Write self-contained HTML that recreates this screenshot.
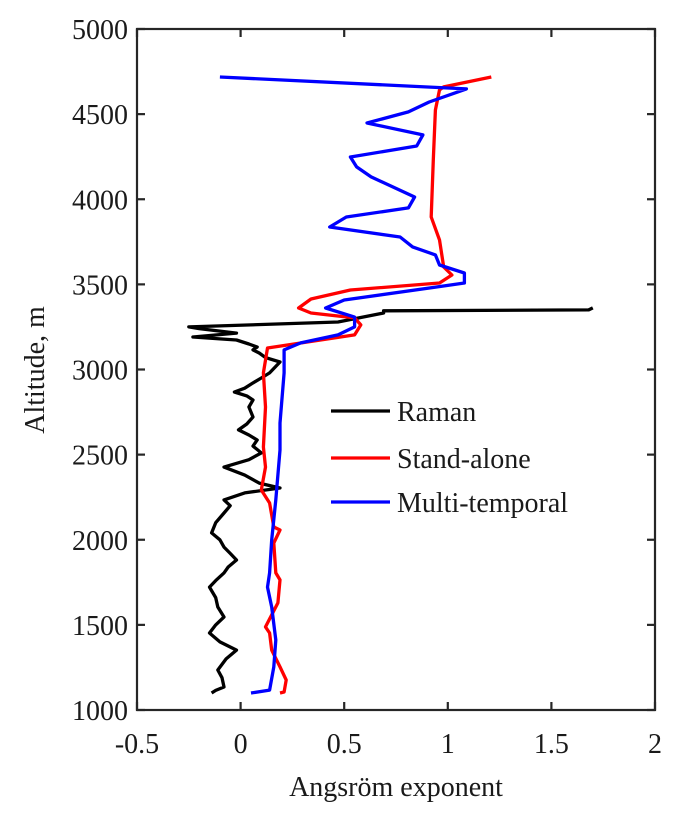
<!DOCTYPE html>
<html><head><meta charset="utf-8"><style>
body{margin:0;background:#fff;}
svg text{font-family:"Liberation Serif",serif;fill:#1a1a1a;}
</style></head><body>
<svg id="chart" width="678" height="824" xmlns="http://www.w3.org/2000/svg">
<g id="marks"></g>
<g id="axes"></g>
</svg>
<script>
const xTicks=[-0.5,0,0.5,1,1.5,2];
const xTickLabels=["-0.5","0","0.5","1","1.5","2"];
const yTicks=[1000,1500,2000,2500,3000,3500,4000,4500,5000];
const yTickLabels=["1000","1500","2000","2500","3000","3500","4000","4500","5000"];
const seriesNames=["Raman","Stand-alone","Multi-temporal"];
const ramanX=[1.70,1.68,0.69,0.69,0.47,-0.25,-0.20,-0.02,-0.23,-0.10,-0.02,0.04,0.08,0.06,0.09,0.12,0.19,0.14,0.10,0.06,0.02,-0.03,0.03,0.06,0.04,0.06,0.03,-0.01,0.04,0.08,0.06,0.10,0.04,-0.08,0.02,0.09,0.19,0.02,-0.08,-0.05,-0.08,-0.12,-0.14,-0.10,-0.08,-0.05,-0.02,-0.06,-0.08,-0.12,-0.15,-0.12,-0.11,-0.08,-0.12,-0.15,-0.10,-0.02,-0.07,-0.11,-0.09,-0.08,-0.12,-0.14];
const ramanY=[3362,3350,3345,3332,3279,3250,3240,3214,3191,3180,3173,3150,3132,3115,3097,3070,3044,2980,2950,2921,2890,2868,2845,2821,2780,2721,2680,2645,2615,2586,2550,2510,2470,2427,2380,2333,2304,2275,2234,2200,2157,2100,2040,2000,1957,1920,1881,1840,1805,1760,1722,1660,1605,1546,1500,1452,1400,1352,1300,1235,1190,1135,1115,1100];
const standX=[1.21,0.98,0.96,0.94,0.93,0.92,0.96,0.98,1.02,0.96,0.53,0.34,0.28,0.34,0.55,0.58,0.55,0.13,0.11,0.12,0.11,0.12,0.10,0.14,0.16,0.19,0.16,0.17,0.19,0.18,0.12,0.14,0.15,0.19,0.22,0.21,0.19];
const standY=[4718,4660,4642,4524,4231,3896,3761,3602,3555,3508,3467,3414,3361,3332,3303,3262,3203,3126,2980,2780,2545,2427,2292,2216,2075,2057,1981,1805,1764,1629,1488,1452,1352,1253,1176,1106,1100];
const multiX=[-0.10,1.09,0.91,0.81,0.61,0.88,0.85,0.53,0.56,0.63,0.84,0.81,0.51,0.43,0.77,0.83,0.94,0.96,1.08,1.08,0.95,0.50,0.41,0.55,0.55,0.47,0.29,0.21,0.21,0.19,0.19,0.17,0.15,0.14,0.13,0.15,0.17,0.16,0.14,0.05];
const multiY=[4718,4648,4571,4513,4448,4378,4313,4248,4190,4131,4013,3949,3896,3837,3778,3720,3673,3614,3567,3508,3485,3408,3361,3308,3250,3203,3156,3115,2980,2686,2527,2234,1999,1805,1722,1605,1411,1253,1117,1100];
const colors=["#000000","#ff0000","#0000ff"];

const L=137,R=655,T=29,B=710;
const sx=v=>L+(v-(-0.5))/2.5*(R-L);
const sy=v=>B-(v-1000)/4000*(B-T);
const NS="http://www.w3.org/2000/svg";
const marks=document.getElementById('marks'), axes=document.getElementById('axes');
function mk(tag,attrs,parent){const e=document.createElementNS(NS,tag);for(const k in attrs)e.setAttribute(k,attrs[k]);parent.appendChild(e);return e;}

const all=[[ramanX,ramanY],[standX,standY],[multiX,multiY]];
const names=["raman-line","stand-alone-line","multi-temporal-line"];
all.forEach((s,i)=>{
  const pts=s[0].map((x,j)=>sx(x).toFixed(1)+","+sy(s[1][j]).toFixed(1)).join(" ");
  const p=mk('polyline',{points:pts,fill:'none',stroke:colors[i],'stroke-width':3.3,'stroke-linejoin':'round'},marks);
  
  
});

const frame=mk('rect',{x:L,y:T,width:R-L,height:B-T,fill:'none',stroke:'#262626','stroke-width':2.2},axes);


xTicks.forEach((v,i)=>{
  const x=sx(v);
  mk('line',{x1:x,y1:B,x2:x,y2:B-8,stroke:'#262626','stroke-width':2.2},axes);
  mk('line',{x1:x,y1:T,x2:x,y2:T+8,stroke:'#262626','stroke-width':2.2},axes);
  const t=mk('text',{x:x,y:753,'text-anchor':'middle','font-size':28},axes);
  t.textContent=xTickLabels[i];
  
  
});
yTicks.forEach((v,i)=>{
  const y=sy(v);
  mk('line',{x1:L,y1:y,x2:L+8,y2:y,stroke:'#262626','stroke-width':2.2},axes);
  mk('line',{x1:R,y1:y,x2:R-8,y2:y,stroke:'#262626','stroke-width':2.2},axes);
  const t=mk('text',{x:128,y:y+10,'text-anchor':'end','font-size':28},axes);
  t.textContent=yTickLabels[i];
  
  
});
const xt=mk('text',{x:396,y:796,'text-anchor':'middle','font-size':28},axes);
xt.textContent="Angsröm exponent";


const yt=mk('text',{x:0,y:0,'text-anchor':'middle','font-size':28,transform:'translate(44,370) rotate(-90)'},axes);
yt.textContent="Altitude, m";


const legY=[411,458,502];
seriesNames.forEach((n,i)=>{
  const g=mk('g',{},axes);
  
  
  mk('line',{x1:331,y1:legY[i],x2:390,y2:legY[i],stroke:colors[i],'stroke-width':3.3},g);
  const t=mk('text',{x:397,y:legY[i]+10,'font-size':28},g);
  t.textContent=n;
});
</script>
</body></html>
